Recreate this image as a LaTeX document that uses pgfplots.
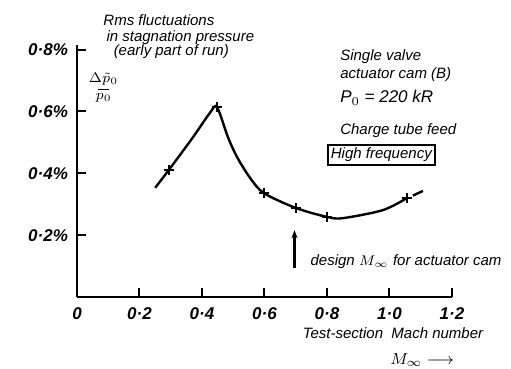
\documentclass[border=0pt]{standalone}
\usepackage{fontspec}
\setmainfont{Liberation Sans}
\usepackage{amsmath}
\usepackage{pgfplots}
\pgfplotsset{compat=1.18}
\usetikzlibrary{arrows.meta}

\begin{document}
\begin{tikzpicture}
\useasboundingbox (-38.5pt,-36pt) rectangle (217pt,148.5pt);
\begin{axis}[
  at={(0,0)}, anchor=south west,
  scale only axis,
  width=187.5pt, height=126pt,
  xmin=0, xmax=1.2, ymin=0, ymax=0.815,
  axis x line*=bottom, axis y line*=left,
  axis line style={line width=1.3pt, -},
  xtick={0,0.2,0.4,0.6,0.8,1.0,1.2},
  xticklabels={0,0·2,0·4,0·6,0·8,1·0,1·2},
  ytick={0.2,0.4,0.6,0.8},
  yticklabels={0·2\%,0·4\%,0·6\%,0·8\%},
  tick align=inside,
  major tick length=4.5pt,
  tick style={line width=1pt, black},
  xticklabel style={font=\fontsize{8.5}{9}\selectfont\bfseries\itshape, yshift=-2pt},
  yticklabel style={font=\fontsize{8.5}{9}\selectfont\bfseries\itshape, xshift=-1pt},
  clip=false,
]
% curve
\addplot[line width=1.2pt, smooth, tension=0.5] coordinates {
  (0.25,0.353) (0.294,0.411) (0.37,0.515) (0.425,0.595) (0.448,0.614)
  (0.483,0.517) (0.512,0.453) (0.554,0.385)
  (0.598,0.336) (0.70,0.288) (0.80,0.259) (0.851,0.255)
  (0.979,0.281) (1.056,0.320)
};
\addplot[line width=1.2pt] coordinates {(1.075,0.328) (1.107,0.343)};
% measured points
\addplot[only marks, mark=+, mark size=2.5pt, mark options={line width=1.2pt}] coordinates {
  (0.294,0.411) (0.448,0.614) (0.598,0.336) (0.70,0.288) (0.80,0.259) (1.056,0.320)
};

\node[anchor=west, font=\fontsize{7.5}{8}\selectfont\itshape] at (axis cs:0.062,0.896) {Rms fluctuations};
\node[anchor=west, font=\fontsize{7.5}{8}\selectfont\itshape] at (axis cs:0.072,0.840) {in stagnation pressure};
\node[anchor=west, font=\fontsize{7.5}{8}\selectfont\itshape] at (axis cs:0.095,0.793) {(early part of run)};
% Delta p0 / p0 label, stacked by hand
\node[anchor=south, inner sep=0pt, font=\fontsize{7}{7}\selectfont] at (axis cs:0.085,0.684) {$\Delta\tilde{p}_0$};
\draw[line width=0.6pt] (axis cs:0.066,0.672) -- (axis cs:0.104,0.672);
\node[anchor=north, inner sep=0pt, font=\fontsize{7}{7}\selectfont] at (axis cs:0.085,0.660) {$p_0$};

\node[anchor=west, font=\fontsize{7.5}{8}\selectfont\itshape] at (axis cs:0.82,0.776) {Single valve};
\node[anchor=west, font=\fontsize{7.5}{8}\selectfont\itshape] at (axis cs:0.82,0.718) {actuator cam (B)};
\node[anchor=west, font=\fontsize{8.5}{9}\selectfont\itshape] at (axis cs:0.82,0.644) {P$_0$ = 220 kR};
\node[anchor=west, font=\fontsize{7.5}{8}\selectfont\itshape] at (axis cs:0.82,0.537) {Charge tube feed};
\node[anchor=west, draw, line width=0.9pt, inner sep=1.5pt, font=\fontsize{7.5}{8}\selectfont\itshape] at (axis cs:0.80,0.459) {High frequency};

\draw[line width=1.2pt, -{Stealth[length=4pt,width=3pt]}] (axis cs:0.696,0.094) -- (axis cs:0.696,0.216);
\node[anchor=west, font=\fontsize{7.5}{8}\selectfont\itshape] at (axis cs:0.725,0.113) {design $M_\infty$ for actuator cam};

\node[anchor=west, font=\fontsize{7.5}{8}\selectfont\itshape] at (axis cs:0.70,-0.117) {Test-section\ \ Mach number};
\node[anchor=west, font=\fontsize{8}{8}\selectfont\itshape] at (axis cs:0.98,-0.204) {$M_\infty$ $\longrightarrow$};
\end{axis}
\end{tikzpicture}
\end{document}
